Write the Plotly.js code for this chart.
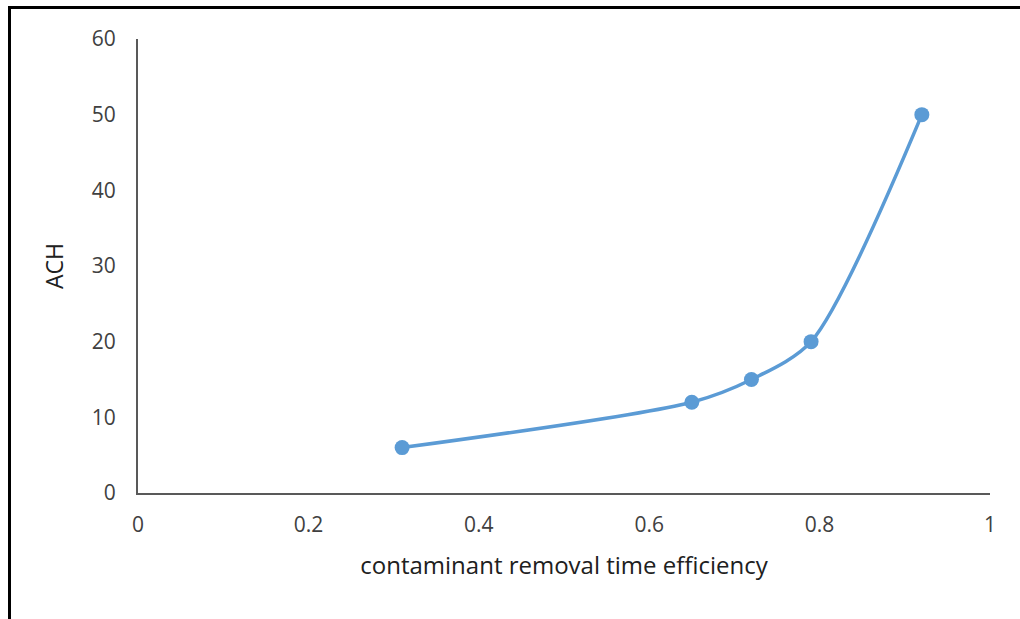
<!DOCTYPE html>
<html>
<head>
<meta charset="utf-8">
<script src="https://cdn.plot.ly/plotly-3.0.1.min.js"></script>
<style>
html,body{margin:0;padding:0;background:#fff;}
#chart{width:1020px;height:619px;position:absolute;left:0;top:0;}
#frame{position:absolute;left:8px;top:6px;width:1012px;height:613px;border-left:3px solid #000;border-top:3px solid #000;box-sizing:border-box;pointer-events:none;}
</style>
</head>
<body>
<div id="chart"></div>
<div id="frame"></div>
<script>
const efficiency = [0.31, 0.65, 0.72, 0.79, 0.92];
const ach = [6, 12, 15, 20, 50];
const xTicks = [0, 0.2, 0.4, 0.6, 0.8, 1];
const xTickLabels = ['0', '0.2', '0.4', '0.6', '0.8', '1'];
const yTicks = [0, 10, 20, 30, 40, 50, 60];

const font = '"Open Sans", "Liberation Sans", sans-serif';

Plotly.newPlot('chart', [{
  x: efficiency,
  y: ach,
  type: 'scatter',
  mode: 'lines+markers',
  line: {color: '#5B9BD5', width: 3.5, shape: 'spline', smoothing: 0.8},
  marker: {color: '#5B9BD5', size: 15},
  hoverinfo: 'x+y'
}], {
  width: 1020, height: 619,
  margin: {l: 138, r: 30, t: 39, b: 126},
  paper_bgcolor: '#fff', plot_bgcolor: '#fff',
  showlegend: false,
  font: {family: font, color: '#404040', size: 21},
  xaxis: {
    range: [0, 1], tickvals: xTicks, ticktext: xTickLabels,
    showgrid: false, zeroline: false, showline: true, linecolor: '#595959', linewidth: 2,
    ticks: 'outside', ticklen: 12, tickcolor: 'rgba(0,0,0,0)', tickfont: {size: 21, color: '#404040'},
    title: {text: 'contaminant removal time efficiency', font: {size: 24, color: '#202020'}, standoff: 20}
  },
  yaxis: {
    range: [0, 60], tickvals: yTicks,
    showgrid: false, zeroline: false, showline: true, linecolor: '#595959', linewidth: 2,
    ticks: 'outside', ticklen: 16, tickcolor: 'rgba(0,0,0,0)', tickfont: {size: 21, color: '#404040'},
    title: {text: 'ACH', font: {size: 23, color: '#202020'}, standoff: 22}
  }
}, {displayModeBar: false, staticPlot: true});
</script>
</body>
</html>
